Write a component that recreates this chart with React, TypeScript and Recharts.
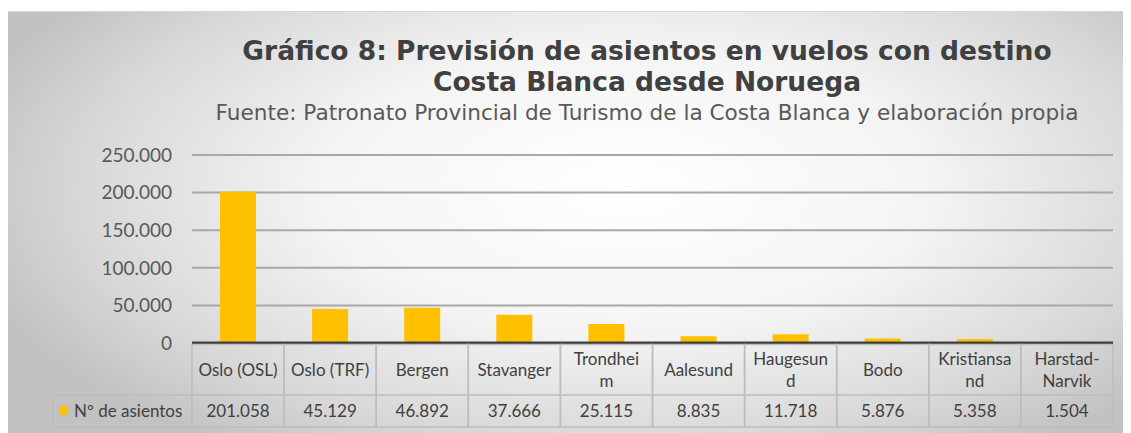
import React from "react";
import { Bar, BarChart, CartesianGrid, XAxis, YAxis } from "recharts";

const categories = [
  "Oslo (OSL)",
  "Oslo (TRF)",
  "Bergen",
  "Stavanger",
  "Trondheim",
  "Aalesund",
  "Haugesund",
  "Bodo",
  "Kristiansand",
  "Harstad-Narvik",
];
// category names as Excel wraps them inside the data table
const categoryLines = [
  ["Oslo (OSL)"],
  ["Oslo (TRF)"],
  ["Bergen"],
  ["Stavanger"],
  ["Trondhei", "m"],
  ["Aalesund"],
  ["Haugesun", "d"],
  ["Bodo"],
  ["Kristiansa", "nd"],
  ["Harstad-", "Narvik"],
];
const seats = [201058, 45129, 46892, 37666, 25115, 8835, 11718, 5876, 5358, 1504];
const yTicks = [0, 50000, 100000, 150000, 200000, 250000];
const seriesName = "Nº de asientos";

const W = 1131;
const H = 433;
const PLOT_LEFT = 192;
const PLOT_RIGHT = 18;
const ROW1 = 52;
const ROW2 = 32;
const GOLD = "#FFC000";
const TEXT = "#404040";
const BORDER = "#bdbdbd";
const FONT = "Lato, 'Open Sans', sans-serif";
const TABLE_FS = 17;

const data = categories.map((name, i) => ({ name, seats: seats[i] }));

const fmt = (v: number) => String(v).replace(/\B(?=(\d{3})+(?!\d))/g, ".");

const colW = (W - PLOT_LEFT - PLOT_RIGHT) / categories.length;

function TableTick(props: any) {
  const { x, y, index } = props;
  const left = x - colW / 2;
  const top = y + 1.5;
  const lines = categoryLines[index] || [];
  const lineH = 22;
  const startY = top + (ROW1 - 1.5) / 2 - ((lines.length - 1) * lineH) / 2;
  return (
    <g>
      <rect x={left} y={top} width={colW} height={ROW1 + ROW2 - 1.5} fill="none" stroke={BORDER} strokeWidth={1.5} />
      <line x1={left} x2={left + colW} y1={y + ROW1} y2={y + ROW1} stroke={BORDER} strokeWidth={1.5} />
      {lines.map((ln, i) => (
        <text
          key={i}
          x={x}
          y={startY + i * lineH}
          dy="0.355em"
          textAnchor="middle"
          fontSize={TABLE_FS}
          fontFamily={FONT}
          fill={TEXT}
        >
          {ln}
        </text>
      ))}
      <text
        x={x}
        y={y + ROW1 + ROW2 / 2}
        dy="0.355em"
        textAnchor="middle"
        fontSize={TABLE_FS}
        fontFamily={FONT}
        fill={TEXT}
      >
        {fmt(seats[index])}
      </text>
      {index === 0 && (
        <g>
          <rect
            x={53}
            y={y + ROW1}
            width={left - 53}
            height={ROW2}
            fill="none"
            stroke={BORDER}
            strokeWidth={1.5}
          />
          <rect x={60} y={y + ROW1 + 11} width={8} height={9} fill={GOLD} />
          <text
            x={74}
            y={y + ROW1 + ROW2 / 2}
            dy="0.355em"
            fontSize={TABLE_FS}
            fontFamily={FONT}
            fill={TEXT}
          >
            {seriesName}
          </text>
        </g>
      )}
    </g>
  );
}

export default function App() {
  return (
    <div style={{ position: "relative", width: W, height: H, margin: "-8px 0 0 -8px", background: "#fff" }}>
      <div
        style={{
          position: "absolute",
          left: 6,
          top: 11,
          width: W - 6,
          height: H - 11,
          borderTop: "1px solid #d4d4d4",
          background:
            "radial-gradient(ellipse 60% 75% at 55% 42%, #ffffff 0%, #f4f4f4 45%, #d8d8d8 80%, #c2c2c2 100%)",
        }}
      />
      <div style={{ position: "absolute", left: 0, top: 0 }}>
        <BarChart width={W} height={H} data={data} margin={{ top: 155, right: PLOT_RIGHT, bottom: 6, left: 0 }}>
          <CartesianGrid horizontal vertical={false} stroke="#a8a8a8" strokeWidth={2} />
          <YAxis
            width={PLOT_LEFT}
            domain={[0, 250000]}
            ticks={yTicks}
            tickFormatter={fmt}
            axisLine={false}
            tickLine={false}
            tickMargin={14}
            tick={{ fill: "#595959", fontSize: 19, fontFamily: FONT }}
          />
          <XAxis
            dataKey="name"
            height={ROW1 + ROW2}
            interval={0}
            tickSize={0}
            tickMargin={0}
            tickLine={false}
            axisLine={{ stroke: "#404040", strokeWidth: 3 }}
            tick={<TableTick />}
          />
          <Bar dataKey="seats" fill={GOLD} barSize={36} isAnimationActive={false} />
        </BarChart>
      </div>
      <svg width={W} height={140} style={{ position: "absolute", left: 0, top: 0, pointerEvents: "none" }}>
        <text
          x={647}
          y={60}
          textAnchor="middle"
          fontFamily="'DejaVu Sans', Verdana, sans-serif"
          fontWeight="bold"
          fontSize={26.5}
          fill={TEXT}
        >
          Gráfico 8: Previsión de asientos en vuelos con destino
        </text>
        <text
          x={647}
          y={91}
          textAnchor="middle"
          fontFamily="'DejaVu Sans', Verdana, sans-serif"
          fontWeight="bold"
          fontSize={26.5}
          fill={TEXT}
        >
          Costa Blanca desde Noruega
        </text>
        <text
          x={647}
          y={120}
          textAnchor="middle"
          fontFamily="'DejaVu Sans', Verdana, sans-serif"
          fontSize={21.6}
          fill="#595959"
        >
          Fuente: Patronato Provincial de Turismo de la Costa Blanca y elaboración propia
        </text>
      </svg>
    </div>
  );
}
